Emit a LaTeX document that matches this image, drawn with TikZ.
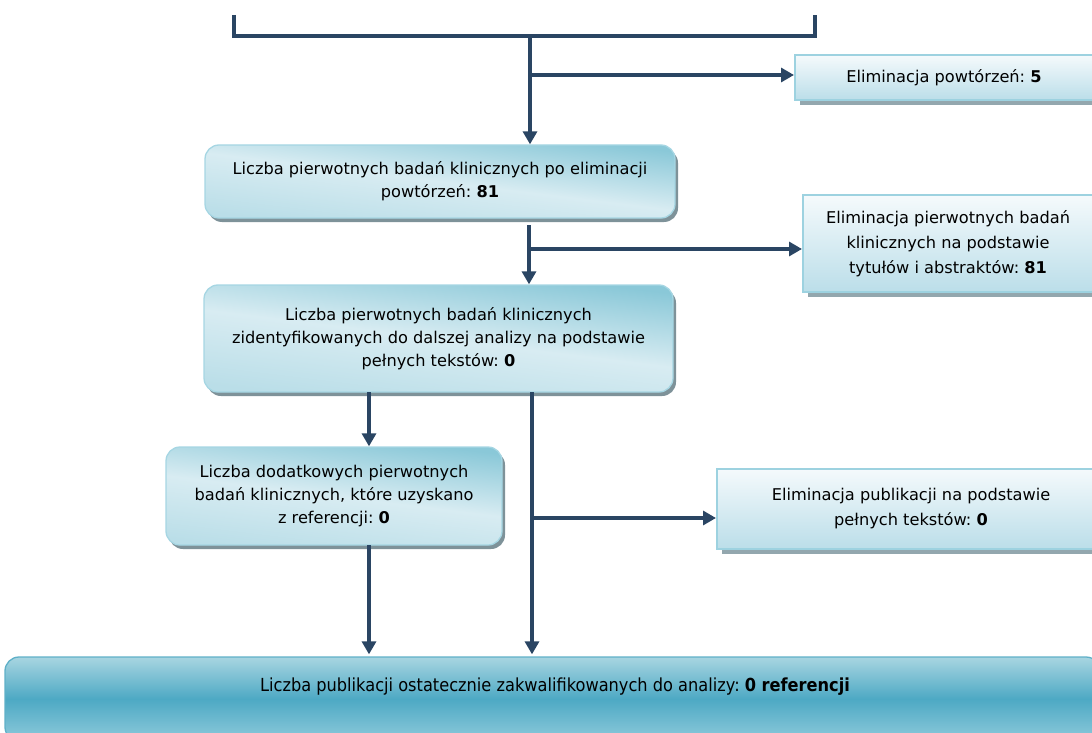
\documentclass[tikz,border=0pt]{standalone}
\usepackage{fontspec}
\setmainfont{DejaVu Sans}
\newfontfamily\condfont{DejaVu Sans}[FakeStretch=0.90]
\usetikzlibrary{arrows.meta,shadows,calc}
\frenchspacing

\definecolor{linkc}{HTML}{2A4563}
\definecolor{rborder}{HTML}{A6D6E3}
\definecolor{rshadow}{HTML}{7E9299}
\definecolor{sboxtop}{HTML}{F5FAFC}
\definecolor{sboxbot}{HTML}{BBDEE9}
\definecolor{sborder}{HTML}{9DD2E0}
\definecolor{sshadow}{HTML}{93A7AE}
\definecolor{glowtop}{HTML}{8AC8D8}
\definecolor{glowmid}{HTML}{D8ECF2}
\definecolor{glowbot}{HTML}{BADEE8}
\definecolor{ftop}{HTML}{A8D5E1}
\definecolor{fmid}{HTML}{4DA9C4}
\definecolor{fbot}{HTML}{8ECADB}
\definecolor{fborder}{HTML}{5FB0C8}

\tikzset{
  link/.style={draw=linkc, line width=3.2pt},
  arrowlink/.style={link, -{Triangle[length=13pt,width=14pt]}},
  roundbox/.style={draw=rborder, line width=1.3pt, rounded corners=14pt,
    top color=glowtop, bottom color=glowbot, middle color=glowmid,
    shading angle=-7,
    drop shadow={shadow xshift=3pt, shadow yshift=-4pt, fill=rshadow, opacity=1},
    align=center, font=\fontsize{16.2}{23}\selectfont},
  sidebox/.style={draw=sborder, line width=2pt,
    top color=sboxtop, bottom color=sboxbot,
    drop shadow={shadow xshift=5pt, shadow yshift=-5pt, fill=sshadow, opacity=1},
    align=center, font=\fontsize{16.2}{25}\selectfont},
  finalbox/.style={draw=fborder, line width=1.3pt, rounded corners=14pt,
    top color=ftop, bottom color=fbot, middle color=fmid},
}

\begin{document}
\begin{tikzpicture}[x=1pt, y=-1pt]
\useasboundingbox (0,0) rectangle (1092,733);
\clip (0,0) rectangle (1092,733);

% boxes
\node[roundbox, minimum width=470pt, minimum height=73pt] (n1) at (440,181.5)
  {Liczba pierwotnych badań klinicznych po eliminacji\\ powtórzeń: \textbf{81}};
\node[roundbox, minimum width=469pt, minimum height=107pt] (n2) at (438.5,338.5)
  {Liczba pierwotnych badań klinicznych\\ zidentyfikowanych do dalszej analizy na podstawie\\ pełnych tekstów: \textbf{0}};
\node[roundbox, minimum width=336pt, minimum height=98pt] (n3) at (334,496)
  {Liczba dodatkowych pierwotnych\\ badań klinicznych, które uzyskano\\ z referencji: \textbf{0}};

\node[sidebox, minimum width=298pt, minimum height=45pt] (e1) at (944,77.5)
  {Eliminacja powtórzeń: \textbf{5}};
\node[sidebox, minimum width=290pt, minimum height=97pt] (e2) at (948,243.5)
  {Eliminacja pierwotnych badań\\ klinicznych na podstawie\\ tytułów i abstraktów: \textbf{81}};
\node[sidebox, minimum width=388pt, minimum height=80pt] (e3) at (911,508.5)
  {Eliminacja publikacji na podstawie\\ pełnych tekstów: \textbf{0}};

\node[finalbox, minimum width=1095pt, minimum height=84pt] (fin) at (552.5,699) {};
\node[font=\condfont\fontsize{18}{22}\selectfont] (fintxt) at (555,687)
  {Liczba publikacji ostatecznie zakwalifikowanych do analizy: \textbf{0 referencji}};

% top bracket
\coordinate (bl) at (234,15);
\coordinate (br) at (815,15);
\coordinate (bm) at (530,36);
\draw[link] (bl) -- (bl |- bm) -- (br |- bm) -- (br);

% connectors
\coordinate (j1) at (530,75);
\draw[arrowlink] (bm) -- (bm |- n1.north);
\draw[arrowlink] (j1) -- (e1.west |- j1);

\coordinate (s1) at (529,225);
\coordinate (j2) at (529,249);
\draw[arrowlink] (s1) -- (s1 |- n2.north);
\draw[arrowlink] (j2) -- (e2.west |- j2);

\coordinate (s2a) at (369,392);
\coordinate (s2b) at (532,392);
\coordinate (j3) at (532,518);
\draw[arrowlink] (s2a) -- (s2a |- n3.north);
\draw[arrowlink] (s2b) -- ($(s2b |- fin.north)+(0,-2)$);
\draw[arrowlink] (j3) -- (e3.west |- j3);

\coordinate (s3) at (369,545);
\draw[arrowlink] (s3) -- ($(s3 |- fin.north)+(0,-2)$);
\end{tikzpicture}
\end{document}
